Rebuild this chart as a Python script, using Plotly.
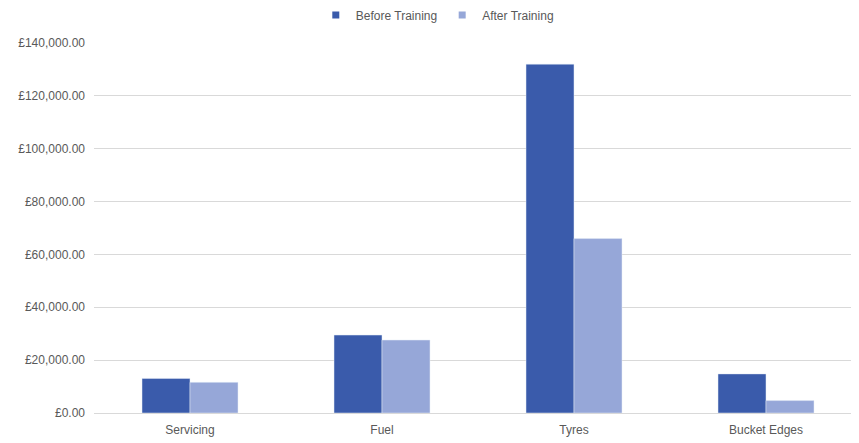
import plotly.graph_objects as go

categories = ["Servicing", "Fuel", "Tyres", "Bucket Edges"]
before_training = [13100, 29500, 132000, 14800]
after_training = [11600, 27600, 66000, 4700]
tick_values = [0, 20000, 40000, 60000, 80000, 100000, 120000, 140000]
tick_labels = ["£0.00", "£20,000.00", "£40,000.00", "£60,000.00", "£80,000.00",
               "£100,000.00", "£120,000.00", "£140,000.00"]
series_names = ["Before Training", "After Training"]
series_colors = ["#3A5BAB", "#96A7D8"]

fig = go.Figure()
for name, vals, col in zip(series_names, [before_training, after_training], series_colors):
    fig.add_trace(go.Bar(name=name, x=categories, y=vals, marker_color=col,
                         showlegend=False, legendgroup=name))
for name, col in zip(series_names, series_colors):
    fig.add_trace(go.Scatter(name=name, x=[None], y=[None], mode="markers",
                             marker=dict(symbol="square", size=7, color=col),
                             legendgroup=name, showlegend=True))

fig.update_layout(
    width=859, height=443,
    margin=dict(l=86, r=5, t=35, b=38, autoexpand=False),
    paper_bgcolor="white", plot_bgcolor="white",
    barmode="group", bargap=0.5, bargroupgap=0,
    font=dict(family="Liberation Sans, Arial", size=12, color="#595959"),
    legend=dict(orientation="h", x=0.447, xanchor="center", y=1.076, yanchor="middle",
                font=dict(size=12, color="#595959"), itemwidth=30,
                traceorder="normal", tracegroupgap=0),
    yaxis=dict(range=[0, 140000], tickvals=tick_values, ticktext=tick_labels,
               showgrid=True, gridcolor="#D9D9D9", gridwidth=1,
               zeroline=True, zerolinecolor="#D9D9D9", zerolinewidth=1,
               automargin=False, ticklabelstandoff=8,
               ticks="", ticklen=0, tickfont=dict(size=12, color="#595959")),
    xaxis=dict(showline=False, ticks="", automargin=False, ticklabelstandoff=8,
               tickfont=dict(size=12, color="#595959")),
)

fig.write_html("out.html")
